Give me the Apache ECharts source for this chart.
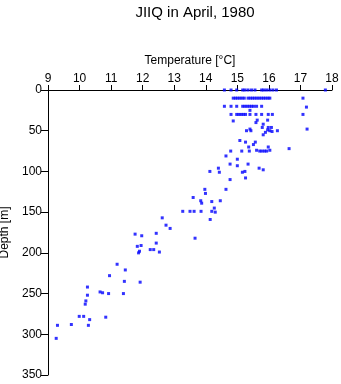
<!DOCTYPE html>
<html>
<head>
<meta charset="utf-8">
<script src="https://cdn.jsdelivr.net/npm/echarts@6/dist/echarts.min.js"></script>
<style>html,body{margin:0;padding:0;background:#fff}#c{width:341px;height:384px}</style>
</head>
<body>
<div id="c"></div>
<script>
var titleText = "JIIQ in April, 1980";
var xName = "Temperature [\u00b0C]";
var yName = "Depth [m]";
var xTicks = [9, 10, 11, 12, 13, 14, 15, 16, 17, 18];
var yTicks = [0, 50, 100, 150, 200, 250, 300, 350];

var temps = [
  14.59, 14.80, 14.98, 15.17, 15.24, 15.34, 15.45, 15.56, 15.77, 15.84, 15.93, 16.03, 16.13, 16.24, 17.79,
  14.87, 14.94, 15.01, 15.08, 15.15, 15.22, 15.34, 15.41, 15.48, 15.55, 15.62, 15.69, 15.76, 15.83, 15.90, 15.97, 16.03, 17.08,
  14.59, 14.80, 14.98, 15.17, 15.24, 15.31, 15.38, 15.45, 15.52, 15.61, 15.77, 17.19,
  15.40,
  14.80, 14.98, 15.05, 15.12, 15.19, 15.26, 15.40, 15.59, 15.77, 15.98, 16.11, 17.08,
  14.87, 15.63, 15.96, 15.59, 15.82, 15.79, 15.98, 16.08, 15.40, 17.21,
  15.29, 15.43, 15.96, 16.03, 16.10, 16.27, 15.89, 15.82,
  15.08, 15.26, 15.57, 15.51, 15.36, 15.98, 16.64,
  14.79, 15.14, 15.38, 15.61, 15.71, 15.78, 15.86, 15.93, 16.03,
  14.64, 15.00, 14.77, 15.34, 15.00, 14.40, 15.69, 15.82, 14.13, 14.43, 15.16, 15.24, 15.26, 14.77,
  13.97, 14.64, 13.99, 13.60, 13.84, 13.87, 14.19, 14.46, 14.27,
  13.27, 13.50, 13.63, 13.85, 14.19, 14.30, 14.14,
  12.62, 12.74, 12.87, 13.66, 11.76, 11.97, 12.43, 12.43, 11.95, 11.83, 11.90, 11.87, 12.24, 12.35, 12.53,
  11.19, 11.45, 10.95, 11.42, 11.92, 10.65, 10.73, 10.92, 11.39,
  9.26, 9.30, 9.74, 9.99, 10.13, 10.28, 10.32, 10.83, 10.18, 10.20, 10.25, 10.25
];
var depths = [
  0, 0, 0, 0, 0, 0, 0, 0, 0, 0, 0, 0, 0, 0, 0,
  10, 10, 10, 10, 10, 10, 10, 10, 10, 10, 10, 10, 10, 10, 10, 10, 10, 10,
  20, 20, 20, 20, 20, 20, 20, 20, 20, 20, 20, 21,
  25,
  30, 30, 30, 30, 30, 30, 30, 30, 30, 30, 30, 30,
  38, 37, 37, 40, 42, 46, 46, 46, 48, 48,
  50, 50, 49, 50, 51, 50, 52, 55,
  62, 64, 64, 67, 70, 70, 72,
  75, 75, 75, 74, 75, 75, 75, 75, 74,
  81, 85, 91, 91, 93, 96, 96, 98, 100, 101, 101, 100, 108, 110,
  122, 122, 127, 132, 136, 139, 137, 136, 145,
  149, 149, 149, 149, 149, 150, 159,
  157, 166, 170, 182, 177, 179, 176, 188, 191, 192, 198, 200, 196, 196, 199,
  214, 221, 228, 235, 236, 248, 249, 250, 250,
  305, 289, 288, 278, 278, 289, 282, 279, 263, 259, 252, 242
];

var pts = temps.map(function (t, i) { return [t, depths[i]]; });
var font = "Liberation Sans, Arial, Helvetica, sans-serif";

var chart = echarts.init(document.getElementById('c'), null, { renderer: 'canvas' });
chart.setOption({
  animation: false,
  backgroundColor: '#ffffff',
  title: {
    text: titleText,
    left: 190, top: 0, textAlign: 'center',
    textStyle: { fontFamily: font, fontSize: 15, fontWeight: 'normal', color: '#000' }
  },
  grid: { left: 48, right: 9, top: 90, bottom: 9, containLabel: false, outerBoundsMode: 'none' },
  xAxis: {
    type: 'value', position: 'top', min: xTicks[0], max: xTicks[xTicks.length - 1], interval: 1,
    name: xName, nameLocation: 'middle', nameGap: 23,
    nameTextStyle: { fontFamily: font, fontSize: 12, color: '#000' },
    axisLine: { onZero: false, lineStyle: { color: '#000', width: 1 } },
    axisTick: { show: true, length: 5, lineStyle: { color: '#000' } },
    axisLabel: { fontFamily: font, fontSize: 12, color: '#000', margin: 5 },
    splitLine: { show: false }
  },
  yAxis: {
    type: 'value', inverse: true, min: yTicks[0], max: yTicks[yTicks.length - 1], interval: 50,
    name: yName, nameLocation: 'middle', nameGap: 32,
    nameTextStyle: { fontFamily: font, fontSize: 12, color: '#000' },
    axisLine: { show: true, onZero: false, lineStyle: { color: '#000', width: 1 } },
    axisTick: { show: true, length: 7, lineStyle: { color: '#000' } },
    axisLabel: { fontFamily: font, fontSize: 12, color: '#000', margin: 6 },
    splitLine: { show: false }
  },
  series: [{
    type: 'scatter',
    data: pts,
    symbol: 'rect',
    symbolSize: 3,
    itemStyle: { color: '#0000ff' }
  }]
});
</script>
</body>
</html>
